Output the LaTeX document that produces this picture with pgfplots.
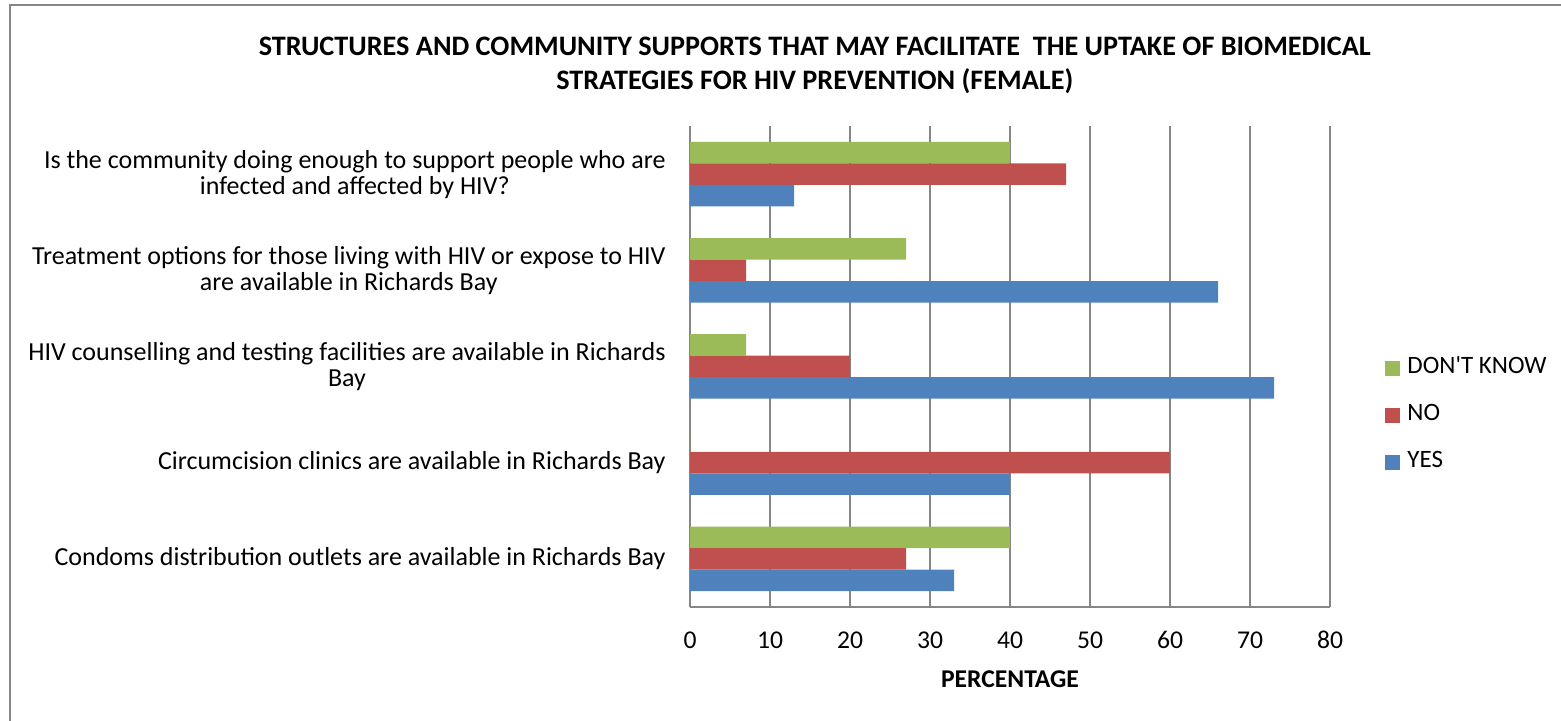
\documentclass[border=0pt]{standalone}
\usepackage{pgfplots}
\pgfplotsset{compat=1.18}
\usepackage{fontspec}
\setmainfont{Carlito}
\newfontfamily\legfont{Carlito}
\definecolor{xblue}{HTML}{4F81BD}
\definecolor{xred}{HTML}{C0504D}
\definecolor{xgreen}{HTML}{9BBB59}
\definecolor{xgrid}{HTML}{868686}
\begin{document}
\begin{tikzpicture}
\path[use as bounding box] (0,0) rectangle (780.5pt,360.5pt);
\draw[xgrid, line width=1pt] (5pt,-20pt) -- (5pt,358pt) -- (820pt,358pt);
\begin{axis}[
  at={(345pt,57pt)}, anchor=south west,
  scale only axis, width=320pt, height=240.5pt,
  xbar, bar width=10.75pt,
  xmin=0, xmax=80, ymin=0.5, ymax=5.5,
  enlargelimits=false,
  axis x line*=bottom, axis y line*=left,
  axis line style={xgrid, line width=0.6pt, -},
  xmajorgrids, grid style={xgrid, line width=0.6pt},
  xtick={0,10,...,80},
  ytick={1,2,3,4,5},
  yticklabels={{Condoms distribution outlets are available in Richards Bay},
    {Circumcision clinics are available in Richards Bay},
    {HIV counselling and testing facilities are available in Richards\\Bay},
    {Treatment options for those living with HIV or expose to HIV\\are available in Richards Bay},
    {Is the community doing enough to support people who are\\infected and affected by HIV?}},
  major tick length=0pt,
  /pgf/number format/assume math mode=true,
  xticklabel style={anchor=center, yshift=-16.5pt, font=\fontsize{12.8}{14}\selectfont},
  yticklabel style={anchor=east, align=center, inner sep=0pt, xshift=-12pt, font=\fontsize{13}{13}\selectfont},
  xlabel={PERCENTAGE},
  xlabel style={at={(axis description cs:0.5,-0.1497)}, anchor=center, font=\bfseries\fontsize{12.8}{14}\selectfont},
  title={STRUCTURES AND COMMUNITY SUPPORTS THAT MAY FACILITATE \ THE UPTAKE OF BIOMEDICAL\\STRATEGIES FOR HIV PREVENTION (FEMALE)},
  title style={at={(axis description cs:0.195,1.101)}, anchor=center, align=center, font=\bfseries\fontsize{14.1}{17}\selectfont},
  legend style={at={(axis description cs:1.086,0.399)}, anchor=west, draw=none, fill=none, inner sep=0pt,
    font=\fontsize{12.5}{14}\selectfont, row sep=12pt,
    nodes={inner sep=0pt, text height=8.5pt, text depth=3pt},
    /tikz/every odd column/.style={column sep=3.5pt}},
  legend cell align=left,
  legend image code/.code={\fill[#1] (0pt,-3.75pt) rectangle (7.5pt,3.75pt);},
]
\addplot[fill=xgreen, draw=none, bar shift=10.75pt] coordinates {(40,1) (0,2) (7,3) (27,4) (40,5)};
\addlegendentry{\legfont DON'T KNOW}
\addplot[fill=xred, draw=none, bar shift=0pt] coordinates {(27,1) (60,2) (20,3) (7,4) (47,5)};
\addlegendentry{NO}
\addplot[fill=xblue, draw=none, bar shift=-10.75pt] coordinates {(33,1) (40,2) (73,3) (66,4) (13,5)};
\addlegendentry{YES}
\end{axis}
\end{tikzpicture}
\end{document}
